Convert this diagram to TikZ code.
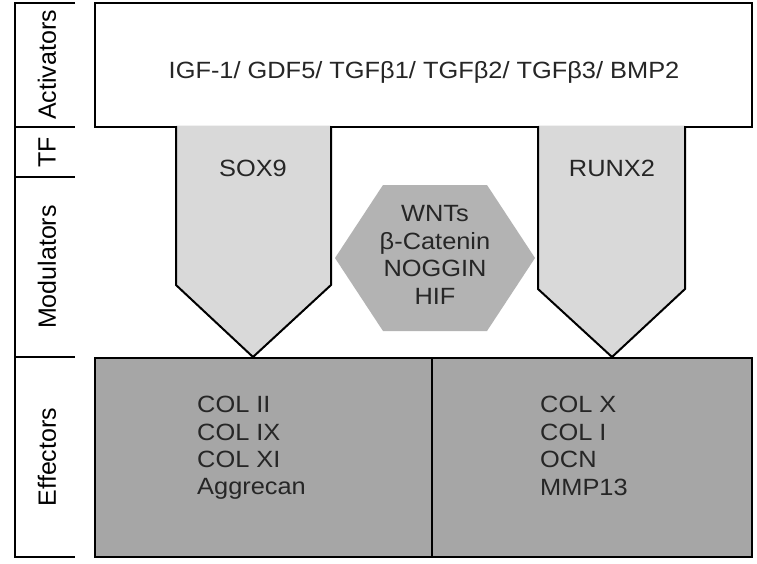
\documentclass[tikz,border=0pt]{standalone}
\usepackage{fontspec}
\setmainfont{Liberation Sans}
\definecolor{tfgray}{HTML}{D9D9D9}
\definecolor{hexgray}{HTML}{B3B3B3}
\definecolor{effgray}{HTML}{A6A6A6}
\begin{document}
\begin{tikzpicture}[x=1pt,y=-1pt,
  font=\fontsize{23.5}{27.4}\selectfont,
  heavy/.style={line width=2.5pt},
  tfline/.style={line width=2pt},
  sidelabel/.style={rotate=90, inner sep=0pt, font=\fontsize{25}{28}\selectfont},
  txt/.style={inner sep=0pt, align=center, text=black!85, xscale=1.08},
  listtxt/.style={inner sep=0pt, align=left, anchor=west, text=black!85, xscale=1.08}]
\useasboundingbox (0,0) rectangle (757,563);
\fill[white] (0,0) rectangle (757,563);

% left bracket
\draw[heavy] (75,3) -- (15,3) -- (15,557) -- (75,557);
\draw[heavy] (15,127) -- (75,127);
\draw[heavy] (15,177) -- (75,177);
\draw[heavy] (15,357) -- (75,357);
\node[sidelabel] (lact) at (47,65) {Activators};
\node[sidelabel] (ltf) at (47,152) {TF};
\node[sidelabel] (lmod) at (47,267) {Modulators};
\node[sidelabel] (leff) at (47,457) {Effectors};

% activators box
\draw[heavy] (95,3) rectangle (752,127);
\node[txt] (act) at (424,72) {IGF-1/ GDF5/ TGFβ1/ TGFβ2/ TGFβ3/ BMP2};

% effector boxes
\draw[heavy, fill=effgray] (95,358) rectangle (432,557);
\draw[heavy, fill=effgray] (432,358) rectangle (752,557);
\node[listtxt] (effl) at (197,448) {COL II\\COL IX\\COL XI\\Aggrecan};
\node[listtxt] (effr) at (540,446) {COL X\\COL I\\OCN\\MMP13};

% TF arrows
\coordinate (sxtip) at (253,357);
\coordinate (rxtip) at (612,357);
\fill[tfgray] (176,125.5) -- (176,285) -- (sxtip) -- (331,285) -- (331,125.5) -- cycle;
\draw[tfline, line join=miter] (176,126) -- (176,285) -- (sxtip) -- (331,285) -- (331,126);
\fill[tfgray] (538,125.5) -- (538,289) -- (rxtip) -- (685,289) -- (685,125.5) -- cycle;
\draw[tfline, line join=miter] (538,126) -- (538,289) -- (rxtip) -- (685,289) -- (685,126);
\node[txt] (sox) at (253,168) {SOX9};
\node[txt] (runx) at (612,168) {RUNX2};

% modulators hexagon
\fill[hexgray] (335,258) -- (383,185) -- (487,185) -- (535,258) -- (487,331) -- (383,331) -- cycle;
\node[txt] (mod) at (435,255) {WNTs\\β-Catenin\\NOGGIN\\HIF};
\end{tikzpicture}
\end{document}
